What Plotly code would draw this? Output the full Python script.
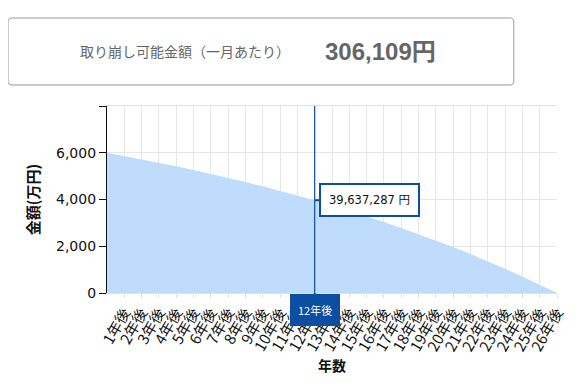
import plotly.graph_objects as go

years = list(range(0, 27))
tick_labels = [f"{y}年後" for y in range(1, 27)]
balance_man = [6000, 5863, 5722, 5575, 5422, 5263, 5098, 4926, 4747, 4562,
               4369, 4168, 3964, 3742, 3517, 3282, 3038, 2785, 2521, 2247,
               1963, 1666, 1359, 1038, 706, 360, 0]
hover_index = 12
hover_value_yen = "39,637,287 円"
monthly_title = "取り崩し可能金額（一月あたり）"
monthly_value = "306,109円"

BLUE = "#0b4ea2"
FONT = "DejaVu Sans, Noto Sans CJK JP"

fig = go.Figure()
fig.add_trace(go.Scatter(
    x=years, y=balance_man, mode="lines", fill="tozeroy",
    fillcolor="#bfdcfc", line=dict(width=0, color="#bfdcfc"),
    hoverinfo="skip", showlegend=False))

# crosshair
fig.add_shape(type="line", xref="x", yref="paper", x0=hover_index, x1=hover_index,
              y0=0, y1=1, line=dict(color=BLUE, width=1.2), layer="above")

# tooltip
fig.add_annotation(x=hover_index, y=balance_man[hover_index], xref="x", yref="y",
                   text=hover_value_yen, showarrow=True, arrowhead=0, arrowwidth=2,
                   arrowcolor=BLUE, ax=55, ay=0, bgcolor="white",
                   bordercolor=BLUE, borderwidth=2, borderpad=8,
                   font=dict(family=FONT, size=11.5, color="#111"))
# x label bubble
fig.add_annotation(x=hover_index, y=0, xref="x", yref="y",
                   text=f"{hover_index}年後", showarrow=True, arrowhead=0,
                   arrowwidth=2, arrowcolor=BLUE, ax=0, ay=17,
                   bgcolor=BLUE, bordercolor=BLUE, borderwidth=1, borderpad=7,
                   font=dict(family="Noto Sans CJK JP", size=11, color="white"))

# header box (rounded rectangle in paper coordinates)
x0, x1, y0, y1 = -0.22, 0.904, 1.1123, 1.4706
rx, ry = 0.009, 0.021
path = (f"M {x0+rx},{y0} L {x1-rx},{y0} Q {x1},{y0} {x1},{y0+ry} "
        f"L {x1},{y1-ry} Q {x1},{y1} {x1-rx},{y1} "
        f"L {x0+rx},{y1} Q {x0},{y1} {x0},{y1-ry} "
        f"L {x0},{y0+ry} Q {x0},{y0} {x0+rx},{y0} Z")
fig.add_shape(type="path", xref="paper", yref="paper", path=path,
              line=dict(color="#999999", width=1), fillcolor="white")
fig.add_annotation(xref="paper", yref="paper", x=0.1733, y=1.294,
                   xanchor="center", yanchor="middle",
                   text=monthly_title, showarrow=False,
                   font=dict(family="Noto Sans CJK JP", size=14, color="#666666"))
fig.add_annotation(xref="paper", yref="paper", x=0.6067, y=1.294,
                   xanchor="center", yanchor="middle",
                   text=f"<b>{monthly_value}</b>", showarrow=False,
                   font=dict(family="Liberation Sans, Noto Sans CJK JP", size=24, color="#666666"))

fig.update_layout(
    width=588, height=388,
    margin=dict(l=99, r=39, t=98, b=103),
    paper_bgcolor="white", plot_bgcolor="white",
    font=dict(family=FONT, color="#111"),
    xaxis=dict(
        range=[0, 26], tickmode="array", tickvals=years[1:], ticktext=tick_labels,
        tickangle=-60, tickfont=dict(family="Noto Sans CJK JP", size=15, color="#111"),
        showgrid=True, gridcolor="#e6e6e6", zeroline=False,
        showline=True, linecolor="#e0e0e0", ticks="outside", ticklen=4, tickcolor="#e0e0e0",
        mirror=True, automargin=False,
        title=dict(text="<b>年数</b>", font=dict(family="Noto Sans CJK JP", size=14, color="#111"),
                   standoff=6),
    ),
    yaxis=dict(
        range=[0, 8000], tickmode="array", tickvals=[0, 2000, 4000, 6000, 8000],
        ticktext=["0", "2,000", "4,000", "6,000", ""],
        tickfont=dict(family="DejaVu Sans", size=14, color="#111"),
        showgrid=True, gridcolor="#e6e6e6", zeroline=False,
        showline=True, linecolor="#111", linewidth=1.2,
        ticks="outside", ticklen=7, tickcolor="#111", automargin=False,
        title=dict(text="<b>金額(万円)</b>", font=dict(family="Noto Sans CJK JP", size=15, color="#111"),
                   standoff=12),
    ),
)

fig.write_html("out.html")
